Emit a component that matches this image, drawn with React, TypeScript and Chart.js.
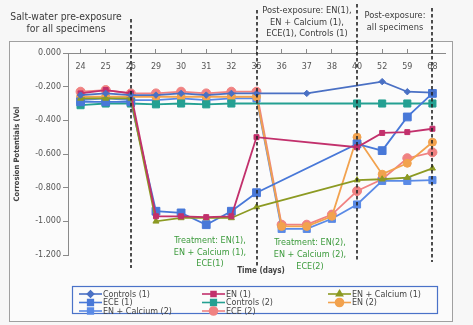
import React, { useEffect, useRef } from 'react';
import { Chart, registerables } from 'chart.js';
import { drawPoint } from 'chart.js/helpers';

Chart.register(...registerables);

// Exposure days (category axis)
const days = ['24', '25', '26', '29', '30', '31', '32', '35', '36', '37', '38', '40', '52', '59', '68'];

// Corrosion potentials (V) per specimen group; null = no reading that day
const controls1 = [-0.25, -0.24, -0.25, -0.25, -0.24, -0.25, -0.24, -0.24, null, -0.24, null, null, -0.17, -0.23, -0.235];
const en1 = [-0.24, -0.22, -0.24, -0.97, -0.97, -0.975, -0.97, -0.5, null, null, null, -0.56, -0.475, -0.47, -0.45];
const enCalcium1 = [-0.27, -0.27, -0.27, -1.0, -0.98, -0.98, -0.98, -0.915, null, null, null, -0.755, -0.75, -0.74, -0.685];
const ece1 = [-0.29, -0.29, -0.29, -0.94, -0.95, -1.02, -0.94, -0.83, null, null, null, -0.54, -0.58, -0.38, -0.24];
const controls2 = [-0.31, -0.3, -0.3, -0.305, -0.3, -0.305, -0.3, null, null, null, null, -0.3, -0.3, -0.3, -0.3];
const en2 = [-0.26, -0.26, -0.26, -0.26, -0.26, -0.26, -0.26, -0.26, -1.03, -1.03, -0.97, -0.5, -0.72, -0.655, -0.53];
const enCalcium2 = [-0.28, -0.27, -0.28, -0.28, -0.27, -0.28, -0.27, -0.27, -1.045, -1.045, -0.985, -0.9, -0.76, -0.76, -0.755];
const ece2 = [-0.23, -0.22, -0.24, -0.24, -0.23, -0.24, -0.23, -0.23, -1.02, -1.02, -0.96, -0.82, -0.75, -0.625, -0.59];

// Phase boundaries (dashed verticals)
const phaseDays = ['26', '35', '40', '68'];

const FONT = 'DejaVu Sans';
const FONT_C = 'DejaVu Sans Condensed';

type Series = { label: string; data: (number | null)[]; color: string; style: string; radius: number };

const series: Series[] = [
  { label: 'Controls (1)', data: controls1, color: '#4a70c4', style: 'rectRot', radius: 3.2 },
  { label: 'EN (1)', data: en1, color: '#c2306c', style: 'rect', radius: 3.5 },
  { label: 'EN + Calcium (1)', data: enCalcium1, color: '#8c9a22', style: 'triangle', radius: 3.5 },
  { label: 'ECE (1)', data: ece1, color: '#4878d8', style: 'rect', radius: 5.5 },
  { label: 'Controls (2)', data: controls2, color: '#24a092', style: 'rect', radius: 5 },
  { label: 'EN (2)', data: en2, color: '#f2a24e', style: 'circle', radius: 4 },
  { label: 'EN + Calcium (2)', data: enCalcium2, color: '#5a8ae6', style: 'rect', radius: 5 },
  { label: 'ECE (2)', data: ece2, color: '#f08282', style: 'circle', radius: 4.5 },
];

const backdropPlugin = {
  id: 'backdrop',
  beforeDraw(chart: any) {
    const { ctx } = chart;
    ctx.save();
    ctx.fillStyle = '#f7f7f7';
    ctx.fillRect(0, 0, chart.width, chart.height);
    ctx.fillStyle = '#fbfbfb';
    ctx.fillRect(9, 41, 443, 280);
    ctx.strokeStyle = '#a0a0a0';
    ctx.lineWidth = 1;
    ctx.strokeRect(9.5, 41.5, 443, 280);
    ctx.restore();
  },
};

function lines(ctx: CanvasRenderingContext2D, text: string[], cx: number, y0: number, lh: number) {
  text.forEach((t, i) => ctx.fillText(t, cx, y0 + i * lh));
}

const annotationPlugin = {
  id: 'phases',
  afterDraw(chart: any) {
    const { ctx } = chart;
    const x = chart.scales.x;
    ctx.save();
    // dashed phase boundaries
    const tops = [19, 10, 4, 8];
    const bottoms = [268, 266, 262, 262];
    ctx.strokeStyle = '#222';
    ctx.lineWidth = 1.6;
    ctx.setLineDash([3.5, 2.5]);
    phaseDays.forEach((d, i) => {
      const px = Math.round(x.getPixelForValue(days.indexOf(d)));
      ctx.beginPath();
      ctx.moveTo(px, tops[i]);
      ctx.lineTo(px, bottoms[i]);
      ctx.stroke();
    });
    ctx.setLineDash([]);

    ctx.textAlign = 'center';
    ctx.textBaseline = 'middle';
    ctx.fillStyle = '#3a3a3a';
    ctx.font = `10.3px "${FONT_C}"`;
    lines(ctx, ['Salt-water pre-exposure', 'for all specimens'], 66, 17, 12.5);
    ctx.font = `9.2px "${FONT_C}"`;
    lines(ctx, ['Post-exposure: EN(1),', 'EN + Calcium (1),', 'ECE(1), Controls (1)'], 307, 11, 11.5);
    lines(ctx, ['Post-exposure:', 'all specimens'], 395, 16, 11.5);

    ctx.fillStyle = '#3b9a3b';
    ctx.font = `9px "${FONT_C}"`;
    lines(ctx, ['Treatment: EN(1),', 'EN + Calcium (1),', 'ECE(1)'], 210, 241, 11.5);
    lines(ctx, ['Treatment: EN(2),', 'EN + Calcium (2),', 'ECE(2)'], 310, 243, 12);

    ctx.fillStyle = '#444';
    ctx.font = `bold 8px "${FONT_C}"`;
    ctx.fillText('Time (days)', 261, 271);
    ctx.restore();
  },
};

const legendPlugin = {
  id: 'gridLegend',
  afterDraw(chart: any) {
    const { ctx } = chart;
    const cols = [79, 202, 328];
    const rows = [294, 302.5, 311];
    ctx.save();
    ctx.strokeStyle = '#4a72c8';
    ctx.lineWidth = 1.2;
    ctx.strokeRect(72.5, 286.5, 365, 27);
    ctx.font = `8px "${FONT}"`;
    ctx.textAlign = 'left';
    ctx.textBaseline = 'middle';
    chart.data.datasets.forEach((ds: any, i: number) => {
      const x0 = cols[i % 3];
      const y = rows[Math.floor(i / 3)];
      ctx.strokeStyle = ds.borderColor;
      ctx.lineWidth = 1.6;
      ctx.beginPath();
      ctx.moveTo(x0, y);
      ctx.lineTo(x0 + 23, y);
      ctx.stroke();
      ctx.fillStyle = ds.backgroundColor;
      drawPoint(ctx, { pointStyle: ds.pointStyle, rotation: 0, radius: Math.min(ds.pointRadius, 4), borderWidth: 1 }, x0 + 11.5, y);
      ctx.fillStyle = '#444';
      ctx.fillText(ds.label, x0 + 24, y + 0.5);
    });
    ctx.restore();
  },
};

export default function App() {
  const ref = useRef<HTMLCanvasElement>(null);

  useEffect(() => {
    const chart = new Chart(ref.current as HTMLCanvasElement, {
      type: 'line',
      data: {
        labels: days,
        datasets: series.map((s) => ({
          label: s.label,
          data: s.data,
          borderColor: s.color,
          backgroundColor: s.color,
          pointStyle: s.style as any,
          pointRadius: s.radius,
          pointBorderWidth: 1,
          borderWidth: 1.8,
          spanGaps: true,
          tension: 0,
        })),
      },
      options: {
        responsive: false,
        animation: false,
        layout: { padding: { left: 0, top: 0, right: 28, bottom: 70 } },
        plugins: { legend: { display: false }, tooltip: { enabled: false } },
        scales: {
          x: {
            type: 'category',
            position: 'top',
            offset: true,
            grid: { display: true, drawOnChartArea: false, tickLength: 4, color: '#8a8a8a' },
            border: { display: true, color: '#8a8a8a' },
            ticks: {
              mirror: true,
              padding: 9,
              autoSkip: false,
              maxRotation: 0,
              color: '#555',
              font: { family: FONT, size: 8 },
            },
            afterFit: (s: any) => {
              s.height = 53;
            },
          },
          y: {
            min: -1.2,
            max: 0,
            grid: { display: true, drawOnChartArea: false, tickLength: 5, color: '#8a8a8a' },
            border: { display: true, color: '#8a8a8a' },
            ticks: {
              stepSize: 0.2,
              padding: 2,
              color: '#555',
              font: { family: FONT, size: 8 },
              callback: (v: any) => Number(v).toFixed(3),
            },
            title: {
              display: true,
              text: 'Corrosion Potentials (Vol',
              color: '#444',
              font: { family: FONT_C, size: 7.5, weight: 'bold' },
              padding: { top: 13, bottom: 0 },
            },
            afterFit: (s: any) => {
              s.width = 68;
            },
          },
        },
      },
      plugins: [backdropPlugin, annotationPlugin, legendPlugin],
    });
    return () => chart.destroy();
  }, []);

  return (
    <div style={{ position: 'fixed', left: 0, top: 0, width: 473, height: 325, background: '#f7f7f7' }}>
      <canvas ref={ref} width={473} height={325} style={{ display: 'block', width: 473, height: 325 }} />
    </div>
  );
}
